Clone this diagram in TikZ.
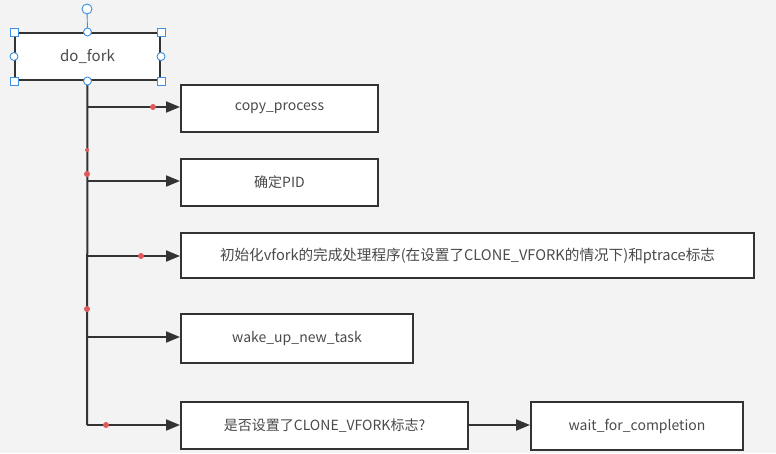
\documentclass[tikz,border=0pt]{standalone}
\usepackage{fontspec}
\setmainfont{Noto Sans CJK SC}
\usetikzlibrary{arrows.meta}
\definecolor{bg}{HTML}{F3F3F3}
\definecolor{ln}{HTML}{333333}
\definecolor{tx}{HTML}{4A4A4A}
\definecolor{hd}{HTML}{3D8FE0}
\definecolor{rd}{HTML}{E05A5A}
\tikzset{
  box/.style={draw=ln, line width=2pt, fill=white, text=tx, font=\fontsize{14}{16}\selectfont, inner sep=0pt, anchor=north west},
  conn/.style={draw=ln, line width=2pt},
  arr/.style={conn, -{Triangle[length=14pt,width=11pt]}},
  sq/.style={draw=hd, fill=white, line width=0.9pt, minimum size=8pt, inner sep=0pt, shape=rectangle},
  cir/.style={draw=hd, fill=white, line width=0.9pt, minimum size=8pt, inner sep=0pt, shape=circle},
  dot/.style={fill=rd, shape=circle, minimum size=6pt, inner sep=0pt},
}
\begin{document}
\begin{tikzpicture}[x=1pt,y=-1pt]
\useasboundingbox[fill=bg] (0,0) rectangle (776,453);
\node[box, minimum width=145pt, minimum height=47pt, font=\fontsize{15}{17}\selectfont] (fork) at (14,32) {do\_fork};
\node[box, minimum width=197pt, minimum height=47pt] (cp) at (180,84) {copy\_process};
\node[box, minimum width=197pt, minimum height=47pt] (pid) at (180,158) {确定PID};
\node[box, minimum width=573pt, minimum height=45pt, font=\fontsize{14.6}{17}\selectfont] (init) at (180,232) {初始化vfork的完成处理程序(在设置了CLONE\_VFORK的情况下)和ptrace标志};
\node[box, minimum width=232pt, minimum height=49pt] (wake) at (180,313) {wake\_up\_new\_task};
\node[box, minimum width=287pt, minimum height=47pt] (vf) at (180,401) {是否设置了CLONE\_VFORK标志?};
\node[box, minimum width=212pt, minimum height=48pt] (wait) at (530,401) {wait\_for\_completion};
\coordinate (t1) at (87,107);
\coordinate (t2) at (87,181);
\coordinate (t3) at (87,256);
\coordinate (t4) at (87,337);
\coordinate (t5) at (87,425);
\draw[conn] (fork.south) -- (t5);
\draw[arr] (t1) -- (t1 -| cp.west);
\draw[arr] (t2) -- (t2 -| pid.west);
\draw[arr] (t3) -- (t3 -| init.west);
\draw[arr] (t4) -- (t4 -| wake.west);
\draw[arr] (t5) -- (t5 -| vf.west);
\draw[arr] (vf.east |- t5) -- (wait.west |- t5);
% selection handles
\coordinate (top) at (87,9);
\draw[draw=hd, line width=0.9pt] (top) -- (fork.north);
\node[cir, minimum size=10pt] (h0) at (top) {};
\node[sq] (h1) at (fork.north west) {};
\node[sq] (h2) at (fork.north east) {};
\node[sq] (h3) at (fork.south west) {};
\node[sq] (h4) at (fork.south east) {};
\node[cir] (h5) at (fork.north) {};
\node[cir] (h6) at (fork.west) {};
\node[cir] (h7) at (fork.east) {};
\node[cir] (h8) at (fork.south) {};
% red points
\node[dot] (d1) at (153,107) {};
\node[dot, minimum size=4pt] (d2) at (87,150) {};
\node[dot] (d3) at (87,174) {};
\node[dot] (d4) at (141,256) {};
\node[dot] (d5) at (87,309) {};
\node[dot] (d6) at (106,425) {};
\end{tikzpicture}
\end{document}
